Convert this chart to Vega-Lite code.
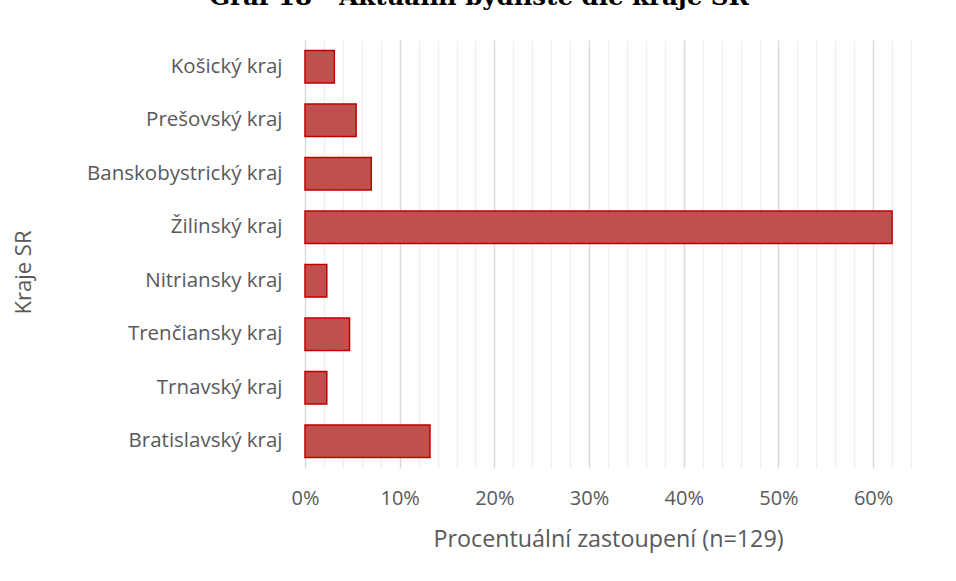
{
  "$schema": "https://vega.github.io/schema/vega-lite/v6.json",
  "autosize": {"type": "none"},
  "padding": {"left": 305, "top": 40, "right": 45, "bottom": 113},
  "width": 606,
  "height": 428,
  "background": "white",
  "title": {
    "text": "Graf 18 - Aktuální bydliště dle kraje SR",
    "font": "DejaVu Serif",
    "fontWeight": "bold",
    "fontSize": 24.5,
    "color": "#000000",
    "anchor": "middle",
    "frame": "group",
    "baseline": "alphabetic",
    "offset": 11,
    "dx": -129
  },
  "data": {
    "values": [
      {"kraj": "Košický kraj", "podil": 0.031},
      {"kraj": "Prešovský kraj", "podil": 0.054},
      {"kraj": "Banskobystrický kraj", "podil": 0.070},
      {"kraj": "Žilinský kraj", "podil": 0.620},
      {"kraj": "Nitriansky kraj", "podil": 0.023},
      {"kraj": "Trenčiansky kraj", "podil": 0.047},
      {"kraj": "Trnavský kraj", "podil": 0.023},
      {"kraj": "Bratislavský kraj", "podil": 0.132}
    ]
  },
  "layer": [
    {
      "mark": {"type": "bar", "fill": "#C0504D", "stroke": "#C00000", "strokeWidth": 1.5},
      "encoding": {
        "y": {
          "field": "kraj",
          "type": "nominal",
          "sort": null,
          "scale": {"paddingInner": 0.39, "paddingOuter": 0.195},
          "axis": {
            "title": "Kraje SR",
            "titleFont": "Open Sans",
            "titleFontSize": 22,
            "titleFontWeight": "normal",
            "titleColor": "#595959",
            "titleY": 232,
            "titleX": -270,
            "labelFont": "Open Sans",
            "labelFontSize": 20.5,
            "labelColor": "#595959",
            "labelPadding": 23,
            "labelLimit": 300,
            "ticks": false,
            "domain": false,
            "grid": false
          }
        },
        "x": {
          "field": "podil",
          "type": "quantitative",
          "scale": {"domain": [0, 0.64], "nice": false},
          "axis": {
            "title": "Procentuální zastoupení (n=129)",
            "titleFont": "Open Sans",
            "titleFontSize": 23.3,
            "titleFontWeight": "normal",
            "titleColor": "#595959",
            "titlePadding": 20,
            "values": [0, 0.1, 0.2, 0.3, 0.4, 0.5, 0.6],
            "format": ".0%",
            "labelFont": "Open Sans",
            "labelFontSize": 20,
            "labelColor": "#595959",
            "labelPadding": 20,
            "labelFlush": false,
            "ticks": false,
            "domain": false,
            "grid": true,
            "gridColor": "#d9d9d9",
            "gridWidth": 1.5
          }
        }
      }
    },
    {
      "mark": {"type": "bar", "opacity": 0},
      "encoding": {
        "y": {"field": "kraj", "type": "nominal", "sort": null},
        "x": {
          "field": "podil",
          "type": "quantitative",
          "axis": {
            "orient": "top",
            "title": null,
            "labels": false,
            "ticks": false,
            "domain": false,
            "grid": true,
            "gridColor": "#f0f0f0",
            "gridWidth": 1.5,
            "values": [0.02, 0.04, 0.06, 0.08, 0.12, 0.14, 0.16, 0.18, 0.22, 0.24, 0.26, 0.28, 0.32, 0.34, 0.36, 0.38, 0.42, 0.44, 0.46, 0.48, 0.52, 0.54, 0.56, 0.58, 0.62, 0.64],
            "zindex": 0
          }
        }
      }
    }
  ],
  "resolve": {"axis": {"x": "independent"}},
  "config": {"view": {"stroke": null}}
}
